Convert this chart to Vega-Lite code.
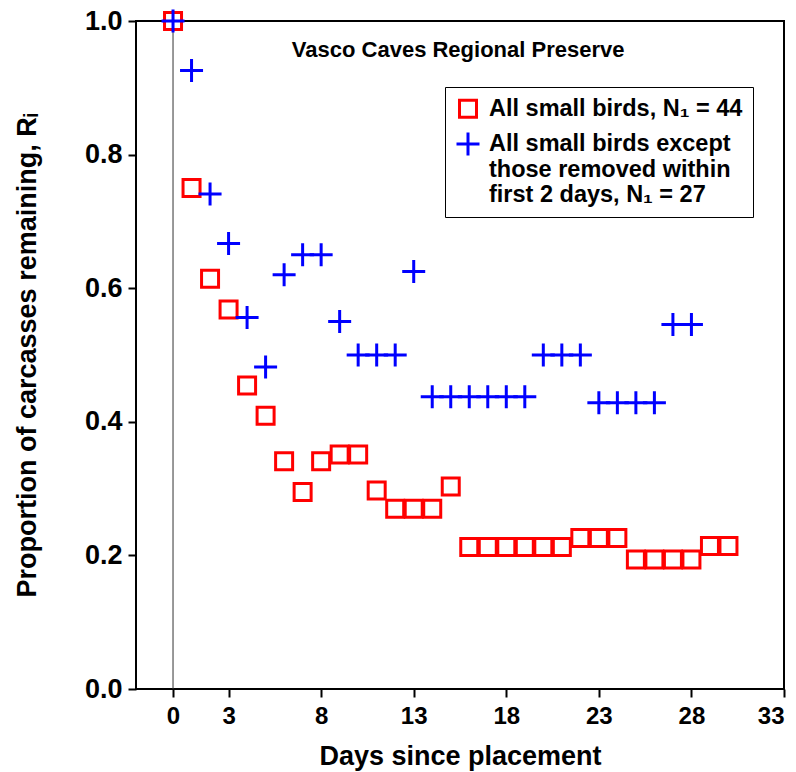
{
  "$schema": "https://vega.github.io/schema/vega-lite/v6.json",
  "width": 648,
  "height": 668,
  "autosize": {"type": "none"},
  "padding": {"left": 136, "top": 21, "right": 12, "bottom": 83},
  "background": "white",
  "config": {
    "view": {"stroke": "black", "strokeWidth": 2},
    "axis": {"grid": false, "domain": false, "tickColor": "black", "tickWidth": 2, "tickSize": 8, "labelColor": "black", "titleColor": "black"}
  },
  "layer": [
    {
      "data": {"values": [{"day": 0}]},
      "mark": {"type": "rule", "color": "#333333", "strokeWidth": 1},
      "encoding": {"x": {"field": "day", "type": "quantitative", "scale": {"domain": [-2, 33], "nice": false, "zero": false}}}
    },
    {
      "data": {
        "values": [
          {"day": 0, "value": 1.0, "series": "a"},
          {"day": 1, "value": 0.75, "series": "a"},
          {"day": 2, "value": 0.614, "series": "a"},
          {"day": 3, "value": 0.568, "series": "a"},
          {"day": 4, "value": 0.4545, "series": "a"},
          {"day": 5, "value": 0.409, "series": "a"},
          {"day": 6, "value": 0.341, "series": "a"},
          {"day": 7, "value": 0.295, "series": "a"},
          {"day": 8, "value": 0.341, "series": "a"},
          {"day": 9, "value": 0.351, "series": "a"},
          {"day": 10, "value": 0.351, "series": "a"},
          {"day": 11, "value": 0.297, "series": "a"},
          {"day": 12, "value": 0.27, "series": "a"},
          {"day": 13, "value": 0.27, "series": "a"},
          {"day": 14, "value": 0.27, "series": "a"},
          {"day": 15, "value": 0.303, "series": "a"},
          {"day": 16, "value": 0.2125, "series": "a"},
          {"day": 17, "value": 0.2125, "series": "a"},
          {"day": 18, "value": 0.2125, "series": "a"},
          {"day": 19, "value": 0.2125, "series": "a"},
          {"day": 20, "value": 0.2125, "series": "a"},
          {"day": 21, "value": 0.2125, "series": "a"},
          {"day": 22, "value": 0.226, "series": "a"},
          {"day": 23, "value": 0.226, "series": "a"},
          {"day": 24, "value": 0.226, "series": "a"},
          {"day": 25, "value": 0.194, "series": "a"},
          {"day": 26, "value": 0.194, "series": "a"},
          {"day": 27, "value": 0.194, "series": "a"},
          {"day": 28, "value": 0.194, "series": "a"},
          {"day": 29, "value": 0.214, "series": "a"},
          {"day": 30, "value": 0.214, "series": "a"},
          {"day": 0, "value": 1.0, "series": "b"},
          {"day": 1, "value": 0.926, "series": "b"},
          {"day": 2, "value": 0.741, "series": "b"},
          {"day": 3, "value": 0.667, "series": "b"},
          {"day": 4, "value": 0.556, "series": "b"},
          {"day": 5, "value": 0.482, "series": "b"},
          {"day": 6, "value": 0.62, "series": "b"},
          {"day": 7, "value": 0.65, "series": "b"},
          {"day": 8, "value": 0.65, "series": "b"},
          {"day": 9, "value": 0.55, "series": "b"},
          {"day": 10, "value": 0.5, "series": "b"},
          {"day": 11, "value": 0.5, "series": "b"},
          {"day": 12, "value": 0.5, "series": "b"},
          {"day": 13, "value": 0.625, "series": "b"},
          {"day": 14, "value": 0.4375, "series": "b"},
          {"day": 15, "value": 0.4375, "series": "b"},
          {"day": 16, "value": 0.4375, "series": "b"},
          {"day": 17, "value": 0.4375, "series": "b"},
          {"day": 18, "value": 0.4375, "series": "b"},
          {"day": 19, "value": 0.4375, "series": "b"},
          {"day": 20, "value": 0.5, "series": "b"},
          {"day": 21, "value": 0.5, "series": "b"},
          {"day": 22, "value": 0.5, "series": "b"},
          {"day": 23, "value": 0.4286, "series": "b"},
          {"day": 24, "value": 0.4286, "series": "b"},
          {"day": 25, "value": 0.4286, "series": "b"},
          {"day": 26, "value": 0.4286, "series": "b"},
          {"day": 27, "value": 0.5455, "series": "b"},
          {"day": 28, "value": 0.5455, "series": "b"}
        ]
      },
      "mark": {"type": "point", "filled": false, "strokeWidth": 3, "opacity": 1},
      "encoding": {
        "x": {
          "field": "day", "type": "quantitative",
          "scale": {"domain": [-2, 33], "nice": false, "zero": false},
          "axis": {"values": [0, 3, 8, 13, 18, 23, 28, 33], "title": "Days since placement",
            "labelFont": "Liberation Sans", "labelFontWeight": "bold", "labelFontSize": 24, "labelPadding": 7,
            "titleFont": "Liberation Sans", "titleFontWeight": "bold", "titleFontSize": 27, "titlePadding": 15}
        },
        "y": {
          "field": "value", "type": "quantitative",
          "scale": {"domain": [0, 1], "nice": false},
          "axis": {"values": [0, 0.2, 0.4, 0.6, 0.8, 1.0], "format": ".1f", "title": "Proportion of carcasses remaining, Rᵢ",
            "labelFont": "Liberation Sans", "labelFontWeight": "bold", "labelFontSize": 27, "labelPadding": 6,
            "titleFont": "Liberation Sans", "titleFontWeight": "bold", "titleFontSize": 27, "titlePadding": 43}
        },
        "shape": {
          "field": "series", "type": "nominal",
          "scale": {"domain": ["a", "b"], "range": ["square", "M -1 0 L 1 0 M 0 -1 L 0 1"]},
          "legend": null
        },
        "color": {
          "field": "series", "type": "nominal",
          "scale": {"domain": ["a", "b"], "range": ["#FF0000", "#0000FF"]},
          "legend": {
            "title": null, "orient": "none", "legendX": 309, "legendY": 66,
            "strokeColor": "black", "padding": 10,
            "labelFont": "Liberation Sans", "labelFontWeight": "bold", "labelFontSize": 23.5, "labelLimit": 500, "labelOffset": 8,
            "labelExpr": "datum.value == 'a' ? 'All small birds, N₁ = 44\u00a0\u00a0\u00a0' : split('All small birds except|those removed within|first 2 days, N₁ = 27', '|')",
            "symbolStrokeWidth": 3, "symbolSize": 300, "rowPadding": 2
          }
        },
        "size": {
          "field": "series", "type": "nominal",
          "scale": {"domain": ["a", "b"], "range": [289, 529]},
          "legend": null
        }
      }
    },
    {
      "data": {"values": [{"day": 15.4, "value": 0.957, "label": "Vasco Caves Regional Preserve"}]},
      "mark": {"type": "text", "font": "Liberation Sans", "fontWeight": "bold", "fontSize": 22, "color": "black"},
      "encoding": {
        "x": {"field": "day", "type": "quantitative"},
        "y": {"field": "value", "type": "quantitative"},
        "text": {"field": "label"}
      }
    }
  ]
}
